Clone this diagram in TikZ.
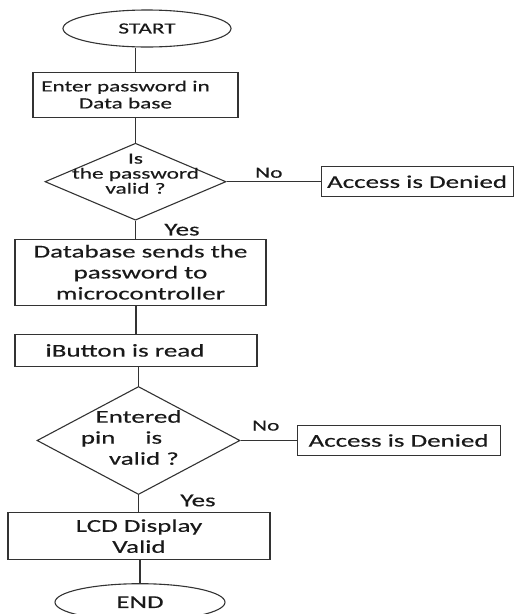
\documentclass[tikz,border=0pt]{standalone}
\usepackage{fontspec}
\setmainfont{Carlito}[FakeStretch=1.5, FakeBold=0.4]
\usetikzlibrary{positioning,shapes.geometric}

\begin{document}
\begin{tikzpicture}
        [
            x = 1pt, y = 1pt,
            color = black!80,
            line width = 1.1pt,
            every node/.style = {font=\fontsize{18}{21}\selectfont, text=black!90},
            small/.style      = {font=\fontsize{15.5}{17}\selectfont},
            boxed/.style      = {shape=rectangle, draw, align=center, inner sep=0pt},
            terminal/.style   = {shape=ellipse, draw, inner sep=0pt, minimum height=37pt},
            decision/.style   = {shape=diamond, draw, inner sep=0pt},
            % every node/.style = {shape=rectangle, draw, align=center}
        ]
        \useasboundingbox (0,0) rectangle (528,-614);

        \node [terminal, small, minimum width=168pt] (start) at (147,-28.5) {START};
        \node [boxed, small, minimum width=205pt, minimum height=45pt, below=24pt of start, xshift=-11.5pt] (enterpw)
            {Enter password in\hspace{20pt}\mbox{}\\Data base\hspace{20pt}\mbox{}};
        \node [decision, minimum width=181pt, minimum height=77pt, below=25pt of enterpw,
               label={[small, align=center, font={\fontsize{15.5}{15}\selectfont}, yshift=8pt]center:Is\\the password\\valid ?}] (chkpw) {};
        \node [boxed, minimum width=192pt, minimum height=30pt, right=94pt of chkpw] (deny1) {Access is Denied};
        \node [boxed, minimum width=251pt, minimum height=66pt, below=18pt of chkpw, xshift=5pt] (sendpw)
            {Database sends the\\password to\\microcontroller};
        \node [boxed, minimum width=242pt, minimum height=32pt, below=28pt of sendpw, xshift=-4.5pt] (readbtn)
            {iButton is read\hspace{22pt}\mbox{}};
        \node [decision, minimum width=203pt, minimum height=108pt, below=19pt of readbtn, xshift=2.5pt,
               label={[align=center, font={\fontsize{18}{21}\selectfont}, yshift=3pt]center:Entered\\pin\hspace{30pt}is\hspace{34pt}\mbox{}\\\hspace{0.6em}valid ?}] (chkpin) {};
        \node [boxed, minimum width=203pt, minimum height=30pt, right=56pt of chkpin] (deny2) {Access is Denied};
        \node [boxed, minimum width=262pt, minimum height=47pt, below=17pt of chkpin, xshift=0.5pt] (lcd)
            {LCD Display\\Valid};
        \node [terminal, minimum width=170pt, below=23pt of lcd, xshift=1pt] (stop) {END};

        % connectors
        \draw (enterpw.north) -- (enterpw.north |- start.south);
        \draw (enterpw) -- (chkpw);
        \draw (chkpw.east) -- node [above, pos=0.45, small] {No} (deny1.west);
        \draw (chkpw.south) -- node [right, xshift=25pt] {Yes} (chkpw.south |- sendpw.north);
        \draw (readbtn.north) -- (readbtn.north |- sendpw.south);
        \draw (chkpin.north) -- (chkpin.north |- readbtn.south);
        \draw (chkpin.east) -- node [above, pos=0.45, small, yshift=6pt] {No} (deny2.west);
        \draw (chkpin.south) -- node [right, xshift=38pt, yshift=3pt] {Yes} (chkpin.south |- lcd.north);
        \draw (stop.north) -- (stop.north |- lcd.south);
    \end{tikzpicture}
\end{document}
